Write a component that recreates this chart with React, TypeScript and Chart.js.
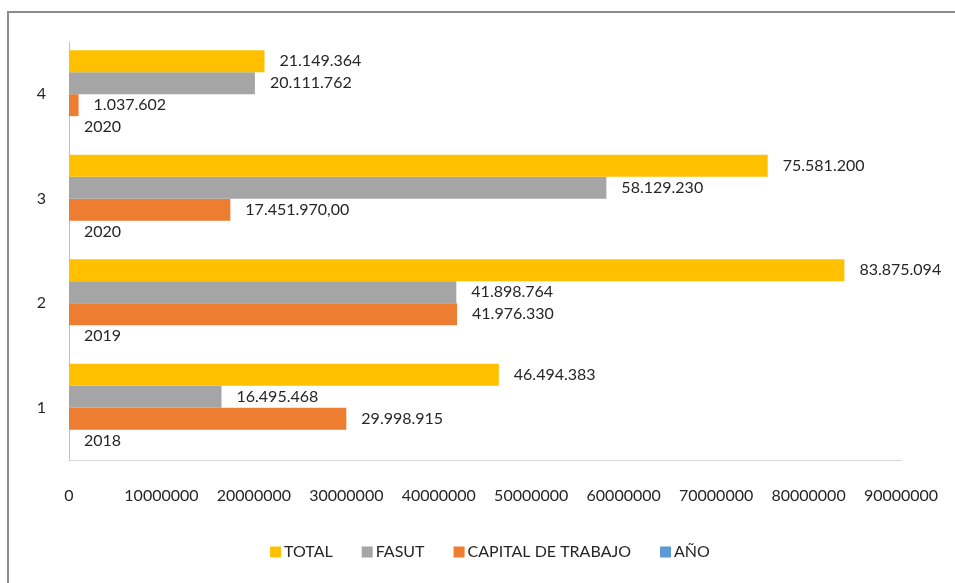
import React, { useEffect, useRef } from "react";
import { Chart, registerables } from "chart.js";

Chart.register(...registerables);

const categories = ["1", "2", "3", "4"];
const totalValues = [46494383, 83875094, 75581200, 21149364];
const fasutValues = [16495468, 41898764, 58129230, 20111762];
const capitalValues = [29998915, 41976330, 17451970, 1037602];
const capitalShowDecimals = [false, false, true, false];
const yearValues = [2018, 2019, 2020, 2020];
const xTickMax = 90000000;
const xTickStep = 10000000;

const FONT = "Lato, 'Open Sans', sans-serif";
const TEXT_COLOR = "#262626";

function dotted(n: number, decimals: boolean): string {
  const s = Math.round(n).toString().replace(/\B(?=(\d{3})+(?!\d))/g, ".");
  return decimals ? s + ",00" : s;
}

const labelFormatters: ((v: number, i: number) => string)[] = [
  (v) => dotted(v, false),
  (v) => dotted(v, false),
  (v, i) => dotted(v, capitalShowDecimals[i]),
  (v) => String(v),
];

const valueLabelsPlugin = {
  id: "valueLabels",
  afterDatasetsDraw(chart: any) {
    const ctx = chart.ctx;
    ctx.save();
    ctx.font = `16px ${FONT}`;
    ctx.fillStyle = TEXT_COLOR;
    ctx.textBaseline = "middle";
    ctx.textAlign = "left";
    chart.data.datasets.forEach((ds: any, di: number) => {
      const meta = chart.getDatasetMeta(di);
      meta.data.forEach((bar: any, i: number) => {
        const text = labelFormatters[di](ds.data[i], i);
        ctx.fillText(text, bar.x + 15, bar.y);
      });
    });
    ctx.restore();
  },
};

const framePlugin = {
  id: "frame",
  beforeDraw(chart: any) {
    const ctx = chart.ctx;
    ctx.save();
    ctx.fillStyle = "#ffffff";
    ctx.fillRect(0, 0, chart.width, chart.height);
    ctx.strokeStyle = "#8c8c8c";
    ctx.lineWidth = 2;
    ctx.strokeRect(8, 12, 2000, 2000);
    ctx.restore();
  },
};

// Bottom legend drawn with tight box/text spacing
const bottomLegendPlugin = {
  id: "bottomLegend",
  afterDraw(chart: any) {
    const ctx = chart.ctx;
    const box = 11;
    const gap = 3;
    const spacing = 29;
    const centerX = 490;
    const centerY = 552;
    ctx.save();
    ctx.font = `16px ${FONT}`;
    ctx.textBaseline = "middle";
    ctx.textAlign = "left";
    const items = chart.data.datasets.map((ds: any) => ({
      text: ds.label as string,
      color: ds.backgroundColor as string,
      w: ctx.measureText(ds.label).width,
    }));
    const total =
      items.reduce((s: number, it: any) => s + box + gap + it.w, 0) +
      spacing * (items.length - 1);
    let x = centerX - total / 2;
    items.forEach((it: any) => {
      ctx.fillStyle = it.color;
      ctx.fillRect(x, centerY - box / 2, box, box);
      ctx.fillStyle = TEXT_COLOR;
      ctx.fillText(it.text, x + box + gap, centerY);
      x += box + gap + it.w + spacing;
    });
    ctx.restore();
  },
};

export default function App() {
  const canvasRef = useRef<HTMLCanvasElement | null>(null);

  useEffect(() => {
    if (!canvasRef.current) return;
    const chart = new Chart(canvasRef.current, {
      type: "bar",
      data: {
        labels: categories,
        datasets: [
          { label: "TOTAL", data: totalValues, backgroundColor: "#FFC000" },
          { label: "FASUT", data: fasutValues, backgroundColor: "#A5A5A5" },
          { label: "CAPITAL DE TRABAJO", data: capitalValues, backgroundColor: "#ED7D31" },
          { label: "AÑO", data: yearValues, backgroundColor: "#5B9BD5" },
        ],
      },
      options: {
        indexAxis: "y",
        responsive: false,
        animation: false,
        datasets: {
          bar: { categoryPercentage: 0.84, barPercentage: 1.0 },
        },
        layout: { padding: { left: 19, right: 54, top: 42, bottom: 55 } },
        scales: {
          x: {
            min: 0,
            max: xTickMax,
            grid: { display: false, drawTicks: true, tickLength: 22 },
            border: { display: true, color: "#D9D9D9", width: 1 },
            ticks: {
              stepSize: xTickStep,
              padding: 4,
              color: TEXT_COLOR,
              font: { family: FONT, size: 16 },
              callback: (v: any) => String(v),
              maxRotation: 0,
              autoSkip: false,
            },
            afterFit: (scale: any) => {
              scale.height = 68;
            },
          },
          y: {
            reverse: true,
            grid: { display: false, drawTicks: false },
            border: { display: true, color: "#BFBFBF", width: 1 },
            ticks: {
              padding: 23,
              color: TEXT_COLOR,
              font: { family: FONT, size: 16 },
            },
            afterFit: (scale: any) => {
              scale.width = 50;
            },
          },
        },
        plugins: {
          legend: { display: false },
          tooltip: { enabled: false },
        },
      },
      plugins: [framePlugin, valueLabelsPlugin, bottomLegendPlugin],
    });
    return () => chart.destroy();
  }, []);

  return (
    <div style={{ position: "fixed", left: 0, top: 0, width: 955, height: 583 }}>
      <canvas ref={canvasRef} width={955} height={583} />
    </div>
  );
}
